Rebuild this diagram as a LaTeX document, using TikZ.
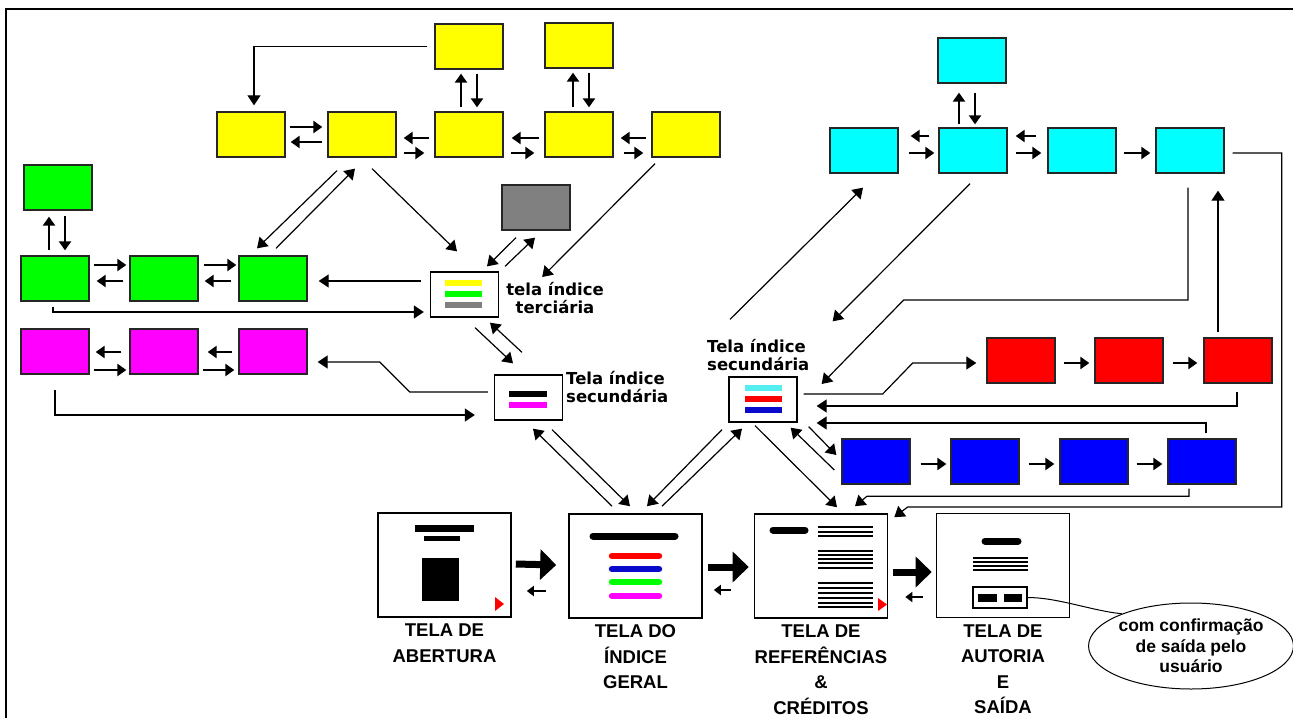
\documentclass[tikz,border=0pt]{standalone}
\usepackage{fontspec}
\usepackage{xcolor}
\usepackage{tikz}
\usetikzlibrary{arrows.meta}
\usetikzlibrary{positioning}
\usetikzlibrary{shapes.geometric}
\newfontfamily\capfont{Liberation Sans}
\newfontfamily\idxfont{DejaVu Sans}
\definecolor{boxyellow}{RGB}{255,255,0}
\definecolor{boxgreen}{RGB}{0,255,0}
\definecolor{boxmagenta}{RGB}{255,0,255}
\definecolor{boxcyan}{RGB}{0,255,255}
\definecolor{boxred}{RGB}{255,0,0}
\definecolor{boxblue}{RGB}{0,0,255}
\definecolor{boxgray}{RGB}{128,128,128}
\definecolor{barcyan}{HTML}{55EEF0}
\definecolor{barblue}{HTML}{0A0ACC}

\begin{document}
\begin{tikzpicture}[x=1pt, y=-1pt,
    box/.style={draw=black!85, line width=1.3pt, minimum width=68pt, minimum height=45pt, inner sep=0pt},
    idx/.style={box, draw=black, fill=white},
    screen/.style={draw=black, line width=1.6pt, fill=white, minimum width=133pt, minimum height=104pt, inner sep=0pt},
    link/.style={line width=1.2pt, -{Triangle[length=10pt,width=13pt]}},
    hop/.style={line width=2.4pt, -{Triangle[length=9pt,width=12pt]}},
    jump/.style={line width=7pt, -{Triangle[length=16pt,width=30pt]}},
    back/.style={line width=2.5pt, -{Triangle[length=7pt,width=10pt]}},
    caption/.style={font=\capfont\bfseries\fontsize{18.5}{25.5}\selectfont, align=center, inner sep=0pt},
    idxlabel/.style={font=\idxfont\bfseries\fontsize{16.5}{17.5}\selectfont, inner sep=0pt},
    bar/.style={line width=5.5pt},
  ]
    \useasboundingbox (0,0) rectangle (1293,718);
    \draw[line width=2pt] (6,718) -- (6,9) -- (1293,9);

    % colour boxes
    \node[box, fill=boxyellow] (Y1) at (251,134.5) {};
    \node[box, fill=boxyellow] (Y2) at (362,134.5) {};
    \node[box, fill=boxyellow] (Y3) at (469,134.5) {};
    \node[box, fill=boxyellow] (Y4) at (579,134.5) {};
    \node[box, fill=boxyellow] (Y5) at (686,134.5) {};
    \node[box, fill=boxyellow] (YT1) at (469,46.5) {};
    \node[box, fill=boxyellow] (YT2) at (579,45.5) {};
    \node[box, fill=boxgray] (K) at (536,207.5) {};

    \node[box, fill=boxgreen] (GT) at (58,187.5) {};
    \node[box, fill=boxgreen] (G1) at (55,278.5) {};
    \node[box, fill=boxgreen] (G2) at (164,278.5) {};
    \node[box, fill=boxgreen] (G3) at (273,278.5) {};

    \node[box, fill=boxmagenta] (M1) at (55,351.5) {};
    \node[box, fill=boxmagenta] (M2) at (164,351.5) {};
    \node[box, fill=boxmagenta] (M3) at (273,351.5) {};

    \node[box, fill=boxcyan] (CT) at (972,60.5) {};
    \node[box, fill=boxcyan] (C1) at (864,150.5) {};
    \node[box, fill=boxcyan] (C2) at (973,150.5) {};
    \node[box, fill=boxcyan] (C3) at (1082,150.5) {};
    \node[box, fill=boxcyan] (C4) at (1190,150.5) {};

    \node[box, fill=boxred] (R1) at (1021,360.5) {};
    \node[box, fill=boxred] (R2) at (1129,360.5) {};
    \node[box, fill=boxred] (R3) at (1238,360.5) {};

    \node[box, fill=boxblue] (B1) at (876,461.5) {};
    \node[box, fill=boxblue] (B2) at (985,461.5) {};
    \node[box, fill=boxblue] (B3) at (1094,461.5) {};
    \node[box, fill=boxblue] (B4) at (1202,461.5) {};

    % index screens
    \node[idx] (TER) at (464.5,294.5) {};
    \node[idx] (MS) at (528.5,397.5) {};
    \node[idx] (CS) at (763,399.5) {};
    \draw[bar, boxyellow] ([shift={(-19.5,-11.5)}]TER.center) -- ++(37,0);
    \draw[bar, boxgreen] ([shift={(-19.5,-0.5)}]TER.center) -- ++(37,0);
    \draw[bar, boxgray] ([shift={(-19.5,10.5)}]TER.center) -- ++(37,0);
    \draw[bar, black] ([shift={(-19.5,-3.5)}]MS.center) -- ++(38,0);
    \draw[bar, boxmagenta] ([shift={(-19.5,7.5)}]MS.center) -- ++(38,0);
    \draw[bar, barcyan] ([shift={(-18,-11.5)}]CS.center) -- ++(37,0);
    \draw[bar, boxred] ([shift={(-18,-0.5)}]CS.center) -- ++(37,0);
    \draw[bar, barblue] ([shift={(-18,10.5)}]CS.center) -- ++(37,0);

    \node[idxlabel, align=center] (TERL) at (555,298) {tela índice\\terciária};
    \node[idxlabel, align=left, anchor=north west] (MSL) at (566,371.5) {Tela índice\\secundária};
    \node[idxlabel, align=left, anchor=north west] (CSL) at (707,339.5) {Tela índice\\secundária};

    % main screens
    \node[screen] (AB) at (444.5,565) {};
    \node[screen] (GER) at (635.5,566) {};
    \node[screen] (REF) at (821,566) {};
    \node[screen] (AUT) at (1003,565.5) {};

    \fill (415,525) rectangle (474,532);
    \fill (424,536) rectangle (460,541);
    \fill (422,558) rectangle (459,601);
    \fill[boxred] (495,597) -- (504,604) -- (495,611) -- cycle;

    \draw[line width=7pt, line cap=round] (593,536) -- (675,536);
    \draw[line width=6.5pt, line cap=round, boxred] (612,556) -- (659,556);
    \draw[line width=6.5pt, line cap=round, barblue] (612,569) -- (659,569);
    \draw[line width=6.5pt, line cap=round, boxgreen] (612,582) -- (659,582);
    \draw[line width=6.5pt, line cap=round, boxmagenta] (612,596) -- (659,596);

    \draw[line width=7pt, line cap=round] (773,530) -- (805,530);
    \foreach \y in {527,532,536,551,555,559,563,568,583,588,593,598,603,607}
      \draw[line width=1.5pt] (818,\y) -- (873,\y);
    \fill[boxred] (878,598) -- (887,604.5) -- (878,611) -- cycle;

    \draw[line width=7pt, line cap=round] (985,541) -- (1018,541);
    \foreach \y in {558,562,566,570}
      \draw[line width=1.5pt] (973,\y) -- (1028,\y);
    \node[draw, line width=1.5pt, minimum width=54pt, minimum height=21pt, inner sep=0pt] (BTN) at (1000,597.5) {};
    \fill (978,594) rectangle (997,602);
    \fill (1004,594) rectangle (1022,602);

    \node[caption, below=6pt of AB] (ABL) {TELA DE\\ABERTURA};
    \node[caption, below=6pt of GER] (GERL) {TELA DO\\ÍNDICE\\GERAL};
    \node[caption, below=6pt of REF] (REFL) {TELA DE\\REFERÊNCIAS\\\&\\CRÉDITOS};
    \node[caption, below=6pt of AUT] (AUTL) {TELA DE\\AUTORIA\\E\\SAÍDA};

    \node[ellipse, draw, line width=1pt, minimum width=202pt, minimum height=86pt, inner sep=0pt,
      font=\capfont\bfseries\fontsize{17.5}{20.5}\selectfont, align=center] (NOTE) at (1191,646)
      {com confirmação\\de saída pelo\\usuário};
    \draw[line width=1pt] (BTN.east) .. controls +(30,0) and +(-30,-3) .. (NOTE.155);

    % yellow group
    \draw[hop] ([shift={(4,-7.5)}]Y1.east) -- ([shift={(-5,-7.5)}]Y2.west);
    \draw[hop] ([shift={(-5,7.5)}]Y2.west) -- ([shift={(5,7.5)}]Y1.east);
    \draw[hop] ([shift={(-5,3.5)}]Y3.west) -- ([shift={(7,3.5)}]Y2.east);
    \draw[hop] ([shift={(7,18.5)}]Y2.east) -- ([shift={(-10,18.5)}]Y3.west);
    \draw[hop] ([shift={(-5,3.5)}]Y4.west) -- ([shift={(8,3.5)}]Y3.east);
    \draw[hop] ([shift={(7,18.5)}]Y3.east) -- ([shift={(-10,18.5)}]Y4.west);
    \draw[hop] ([shift={(-5,3.5)}]Y5.west) -- ([shift={(7,3.5)}]Y4.east);
    \draw[hop] ([shift={(10,18.5)}]Y4.east) -- ([shift={(-8,18.5)}]Y5.west);
    \draw[hop] ([shift={(-8,-4)}]Y3.north) -- ([shift={(-8,4)}]YT1.south);
    \draw[hop] ([shift={(8,4)}]YT1.south) -- ([shift={(8,-4)}]Y3.north);
    \draw[hop] ([shift={(-6,-4)}]Y4.north) -- ([shift={(-6,4)}]YT2.south);
    \draw[hop] ([shift={(10,4)}]YT2.south) -- ([shift={(10,-4)}]Y4.north);
    \draw[link] ([shift={(-7,0)}]YT1.west) -| ([shift={(3,-6)}]Y1.north);
    \draw[link] ([shift={(-25,13)}]Y2.south) -- ([shift={(-16,-7)}]G3.north);
    \draw[link] ([shift={(3,-7)}]G3.north) -- ([shift={(-7,11)}]Y2.south);
    \draw[link] ([shift={(10,11)}]Y2.south) -- ([shift={(-7.5,-20)}]TER.north);
    \draw[link] ([shift={(-20,7)}]K.south) -- ([shift={(22.5,-5)}]TER.north);
    \draw[link] ([shift={(40.5,-5)}]TER.north) -- ([shift={(-1,7)}]K.south);
    \draw[link] ([shift={(-31,6)}]Y5.south) -- ([shift={(43,-17.5)}]TER.east);

    % green group
    \draw[link] ([shift={(-9,-13.5)}]TER.west) -- ([shift={(11,2.5)}]G3.east);
    \draw[link] ([shift={(-2,5)}]G1.south) |- ([shift={(-6,17.5)}]TER.west);
    \draw[hop] ([shift={(4,-13.5)}]G1.east) -- ([shift={(-3,-13.5)}]G2.west);
    \draw[hop] ([shift={(-6,2.5)}]G2.west) -- ([shift={(7,2.5)}]G1.east);
    \draw[hop] ([shift={(5,-13.5)}]G2.east) -- ([shift={(-2,-13.5)}]G3.west);
    \draw[hop] ([shift={(-7,2.5)}]G3.west) -- ([shift={(6,2.5)}]G2.east);
    \draw[hop] ([shift={(-6,-5)}]G1.north) -- ([shift={(-9,6)}]GT.south);
    \draw[hop] ([shift={(7,5)}]GT.south) -- ([shift={(10,-5)}]G1.north);

    % magenta group
    \draw[hop] ([shift={(-8,0.5)}]M2.west) -- ([shift={(6,0.5)}]M1.east);
    \draw[hop] ([shift={(4,18.5)}]M1.east) -- ([shift={(-3,18.5)}]M2.west);
    \draw[hop] ([shift={(-6,0.5)}]M3.west) -- ([shift={(9,0.5)}]M2.east);
    \draw[hop] ([shift={(4,18.5)}]M2.east) -- ([shift={(-4,18.5)}]M3.west);
    \draw[link] ([shift={(10.5,10)}]TER.south) -- ([shift={(-15.5,-11)}]MS.north);
    \draw[link] ([shift={(-6.5,-22)}]MS.north) -- ([shift={(25.5,5)}]TER.south);
    \draw[link] ([shift={(-6,-5.5)}]MS.west) -- ++(-78,0) -- ++(-30,-30) -- ([shift={(10,10.5)}]M3.east);
    \draw[link] ([shift={(0,15)}]M1.south) |- ([shift={(-19,17.5)}]MS.west);

    % to and from the general index
    \draw[link] ([shift={(-23.5,-7)}]GER.north) -- ([shift={(4.5,8)}]MS.south);
    \draw[link] ([shift={(23.5,9)}]MS.south) -- ([shift={(-5.5,-7)}]GER.north);
    \draw[link] ([shift={(-41,7)}]CS.south) -- ([shift={(11.5,-7)}]GER.north);
    \draw[link] ([shift={(26.5,-7)}]GER.north) -- ([shift={(-21,6)}]CS.south);

    % cyan group
    \draw[hop] ([shift={(-9,-14.5)}]C2.west) -- ([shift={(12,-14.5)}]C1.east);
    \draw[hop] ([shift={(10,2.5)}]C1.east) -- ([shift={(-4,2.5)}]C2.west);
    \draw[hop] ([shift={(-11,-14.5)}]C3.west) -- ([shift={(8,-14.5)}]C2.east);
    \draw[hop] ([shift={(8,2.5)}]C2.east) -- ([shift={(-6,2.5)}]C3.west);
    \draw[hop] ([shift={(7,2.5)}]C3.east) -- ([shift={(-5,2.5)}]C4.west);
    \draw[hop] ([shift={(-14,-3)}]C2.north) -- ([shift={(-13,9)}]CT.south);
    \draw[hop] ([shift={(3,9)}]CT.south) -- ([shift={(2,-3)}]C2.north);
    \draw[link] ([shift={(-3,10)}]C2.south) -- ([shift={(35,-55)}]CS.north east);
    \draw[link] ([shift={(-33,-57)}]CS.north) -- ([shift={(-1,14)}]C1.south);
    \draw[link] ([shift={(-2,14)}]C4.south) |- ([shift={(106,-99.5)}]CS.east) -- ([shift={(24,-15.5)}]CS.east);

    % red and blue groups
    \draw[link] ([shift={(-20,-5)}]R3.north) -- ([shift={(28,17)}]C4.south);
    \draw[link] ([shift={(6,-5.5)}]CS.east) -- ++(79,0) -- ++(30,-31) -- ([shift={(-10,2.5)}]R1.west);
    \draw[link] ([shift={(-1,8)}]R3.south) |- ([shift={(19,6.5)}]CS.east);
    \draw[link] ([shift={(4,-5)}]B4.north) |- ([shift={(19,23.5)}]CS.east);
    \draw[link] ([shift={(11,4)}]CS.south east) -- ([shift={(-5,-6.5)}]B1.west);
    \draw[link] ([shift={(-7,8.5)}]B1.west) -- ([shift={(-7,5)}]CS.south east);
    \draw[hop] ([shift={(8,2.5)}]R1.east) -- ([shift={(-5,2.5)}]R2.west);
    \draw[hop] ([shift={(9,2.5)}]R2.east) -- ([shift={(-6,2.5)}]R3.west);
    \draw[hop] ([shift={(10,2.5)}]B1.east) -- ([shift={(-4,2.5)}]B2.west);
    \draw[hop] ([shift={(9,2.5)}]B2.east) -- ([shift={(-5,2.5)}]B3.west);
    \draw[hop] ([shift={(8,2.5)}]B3.east) -- ([shift={(-5,2.5)}]B4.west);

    % into the references screen
    \draw[link] ([shift={(-8,3)}]CS.south) -- ([shift={(16,-6)}]REF.north);
    \draw[link] ([shift={(-13,4)}]B4.south) |- ([shift={(46,-17)}]REF.north) -- ([shift={(34,-7)}]REF.north);
    \draw[link] ([shift={(8,2.5)}]C4.east) -- ++(49,0) -- ++(0,354) -- ++(-374,0) -- ([shift={(6,4)}]REF.north east);

    % bottom row
    \draw[jump] ([shift={(4,-1)}]AB.east) -- ([shift={(-12,-1)}]GER.west);
    \draw[back] ([shift={(-22,25)}]GER.west) -- ([shift={(15,26)}]AB.east);
    \draw[jump] ([shift={(5,1)}]GER.east) -- ([shift={(-5,1)}]REF.west);
    \draw[back] ([shift={(-23,24)}]REF.west) -- ([shift={(11,24)}]GER.east);
    \draw[jump] ([shift={(5,6)}]REF.east) -- ([shift={(-4,6.5)}]AUT.west);
    \draw[back] ([shift={(-13,31.5)}]AUT.west) -- ([shift={(17,31)}]REF.east);
\end{tikzpicture}
\end{document}
